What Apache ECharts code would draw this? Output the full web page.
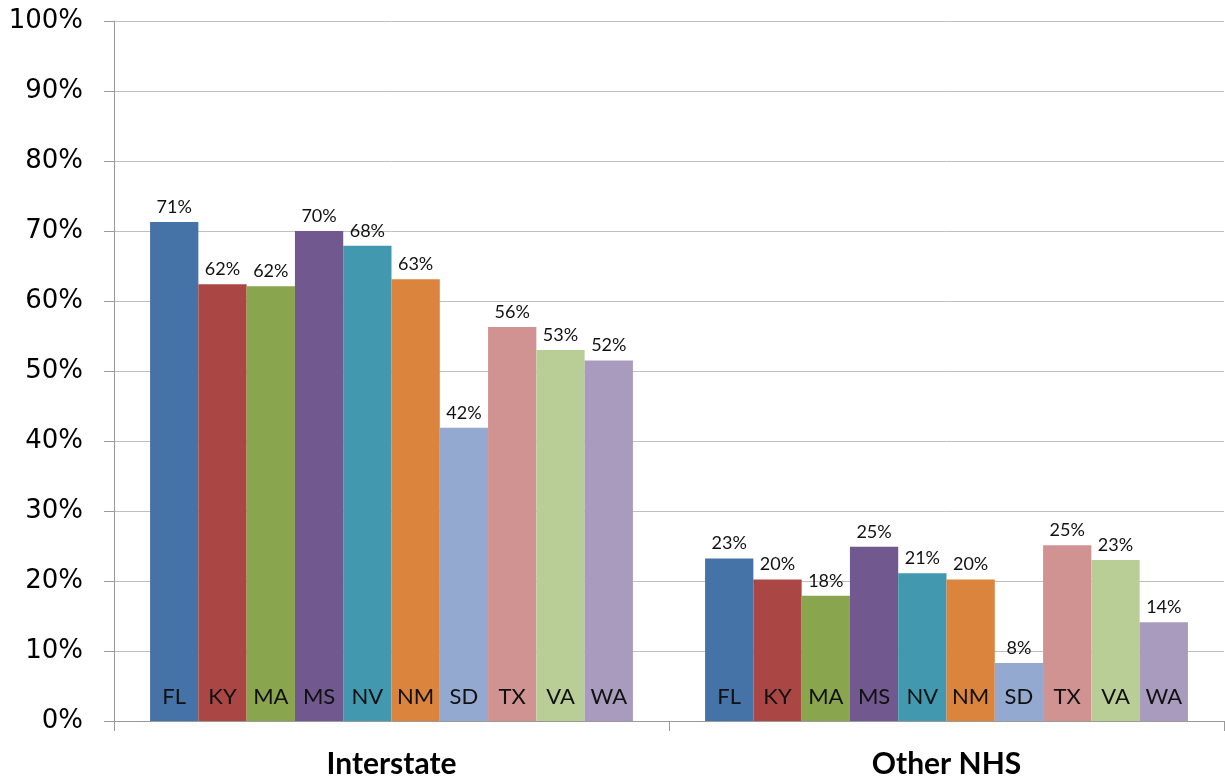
<!DOCTYPE html>
<html>
<head>
<meta charset="utf-8">
<script src="https://cdn.jsdelivr.net/npm/echarts@6/dist/echarts.min.js"></script>
<style>html,body{margin:0;padding:0;background:#fff}#c{width:1225px;height:783px}</style>
</head>
<body>
<div id="c"></div>
<script>
const categories = ['Interstate', 'Other NHS'];
const states = ['FL', 'KY', 'MA', 'MS', 'NV', 'NM', 'SD', 'TX', 'VA', 'WA'];
const FL = [71.3, 23.2];
const KY = [62.4, 20.2];
const MA = [62.1, 17.9];
const MS = [70.0, 24.9];
const NV = [67.9, 21.1];
const NM = [63.1, 20.2];
const SD = [41.9, 8.3];
const TX = [56.3, 25.1];
const VA = [53.0, 23.0];
const WA = [51.5, 14.1];
const yTicks = [0, 10, 20, 30, 40, 50, 60, 70, 80, 90, 100];
const labelBase = [0, 0];
const values = { FL, KY, MA, MS, NV, NM, SD, TX, VA, WA };
const colors = ['#4572A7', '#AA4643', '#89A54E', '#71588F', '#4198AF', '#DB843D', '#93A9CF', '#D19392', '#B9CD96', '#A99BBD'];

const series = [];
states.forEach((s, i) => {
  series.push({
    name: s + '_name', type: 'bar', stack: s, data: labelBase,
    barGap: '0%', barCategoryGap: '13%',
    itemStyle: { color: colors[i] }, silent: true,
    label: { show: true, position: 'top', distance: 13, formatter: () => s,
      fontFamily: 'Lato', fontSize: 22, color: '#111' }
  });
  series.push({
    name: s, type: 'bar', stack: s, data: values[s],
    barGap: '0%', barCategoryGap: '13%',
    itemStyle: { color: colors[i] },
    label: { show: true, position: 'top', distance: 6,
      formatter: p => Math.round(p.value) + '%',
      fontFamily: 'Lato', fontSize: 18, color: '#111' }
  });
});

const chart = echarts.init(document.getElementById('c'));
chart.setOption({
  animation: false,
  grid: { left: 114, right: 1, top: 21, bottom: 62 },
  xAxis: {
    type: 'category', data: categories,
    axisLine: { lineStyle: { color: '#9a9a9a' } },
    axisTick: { show: true, length: 10, lineStyle: { color: '#9a9a9a' } },
    axisLabel: { margin: 28, fontFamily: 'Lato', fontWeight: 'bold', fontSize: 30, color: '#000' }
  },
  yAxis: {
    type: 'value', min: 0, max: 100, interval: 10,
    axisLine: { show: true, lineStyle: { color: '#9a9a9a' } },
    axisTick: { show: true, length: 10, lineStyle: { color: '#9a9a9a' } },
    splitLine: { lineStyle: { color: '#bfbfbf' } },
    axisLabel: { margin: 31, fontFamily: 'DejaVu Sans', fontSize: 26, color: '#000',
      formatter: v => yTicks.includes(v) ? v + '%' : '' }
  },
  series
});
</script>
</body>
</html>
